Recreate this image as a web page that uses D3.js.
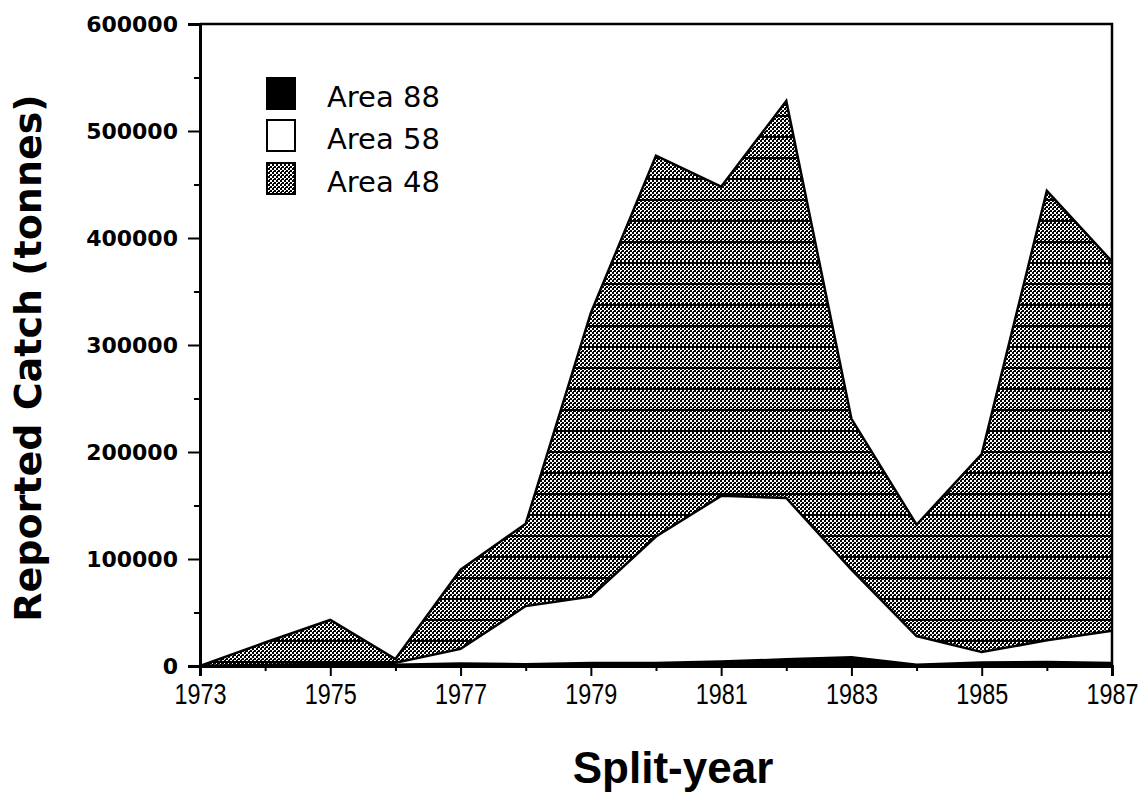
<!DOCTYPE html>
<html>
<head>
<meta charset="utf-8">
<script src="https://cdn.jsdelivr.net/npm/d3@7"></script>
<style>
  html, body { margin: 0; padding: 0; background: #fff; }
  svg { display: block; }
</style>
</head>
<body>
<svg id="chart" width="1147" height="794"></svg>
<script>
// ---- data ----
const years   = [1973, 1974, 1975, 1976, 1977, 1978, 1979, 1980, 1981, 1982, 1983, 1984, 1985, 1986, 1987];
const area88  = [0, 0, 500, 1000, 2000, 1500, 2500, 2500, 4000, 6000, 8000, 1000, 3000, 3500, 2500];
const area58  = [0, 1000, 1500, 2000, 14000, 54500, 62500, 118500, 155000, 151000, 82000, 27000, 10000, 20500, 30500];
const area48  = [0, 21000, 41000, 3500, 74000, 77000, 265000, 356000, 289000, 371000, 141000, 104000, 185000, 420000, 345000];
const seriesNames = ["Area 88", "Area 58", "Area 48"];
const yMajorTicks = [0, 100000, 200000, 300000, 400000, 500000, 600000];
const yMinorTicks = [50000, 150000, 250000, 350000, 450000, 550000];
const xLabelYears = [1973, 1975, 1977, 1979, 1981, 1983, 1985, 1987];
const xMinorYears = [1974, 1976, 1978, 1980, 1982, 1984, 1986];
const xTitle = "Split-year";
const yTitle = "Reported Catch (tonnes)";

(function () {
const rows = years.map((yr, i) => ({ year: yr, a88: area88[i], a58: area58[i], a48: area48[i] }));

// ---- layout ----
const mL = 200, mR = 1112, mT = 24, mB = 666;
const svg = d3.select("#chart");

const x = d3.scaleLinear().domain([1973, 1987]).range([mL, mR]);
const y = d3.scaleLinear().domain([0, 600000]).range([mB, mT]);

// patterns
const defs = svg.append("defs");
const dots = defs.append("pattern").attr("id", "dots")
  .attr("patternUnits", "userSpaceOnUse").attr("width", 4).attr("height", 4);
dots.append("rect").attr("width", 4).attr("height", 4).attr("fill", "#fff");
dots.append("rect").attr("x", 0).attr("y", 0).attr("width", 2).attr("height", 2).attr("fill", "#000");
dots.append("rect").attr("x", 2).attr("y", 2).attr("width", 2).attr("height", 2).attr("fill", "#000");
dots.append("rect").attr("x", 1).attr("y", 3).attr("width", 1).attr("height", 1).attr("fill", "#000");

const hlines = defs.append("pattern").attr("id", "hlines")
  .attr("patternUnits", "userSpaceOnUse").attr("width", 8).attr("height", 21).attr("y", 10);
hlines.append("rect").attr("x", 0).attr("y", 0).attr("width", 8).attr("height", 2).attr("fill", "#000");

// stack
const stack = d3.stack().keys(["a88", "a58", "a48"]);
const layers = stack(rows);

const area = d3.area()
  .x(d => x(d.data.year))
  .y0(d => y(d[0]))
  .y1(d => y(d[1]));
const lineTop = d3.line().x(d => x(d.data.year)).y(d => y(d[1]));

const fills = ["#000", "#fff", "url(#dots)"];
const g = svg.append("g");
layers.forEach((layer, i) => {
  g.append("path").datum(layer).attr("d", area).attr("fill", fills[i]).attr("stroke", "none");
  if (i === 2) {
    g.append("path").datum(layer).attr("d", area).attr("fill", "url(#hlines)");
  }
});
// outlines
layers.forEach((layer, i) => {
  g.append("path").datum(layer).attr("d", lineTop)
    .attr("fill", "none").attr("stroke", "#000")
    .attr("stroke-width", i === 0 ? 3 : 2.5).attr("stroke-linejoin", "miter");
});

// frame
svg.append("path")
  .attr("d", `M${mL},${mT}H${mR}V${mB}`)
  .attr("fill", "none").attr("stroke", "#000").attr("stroke-width", 2.5);

// axes
const yAxis = d3.axisLeft(y).tickValues(yMajorTicks).tickSize(12).tickPadding(10).tickFormat(d3.format("d"));
const yAxisMinor = d3.axisLeft(y).tickValues(yMinorTicks).tickSize(6).tickFormat("");
const xAxis = d3.axisBottom(x).tickValues(xLabelYears).tickSize(10).tickPadding(7).tickFormat(d3.format("d"));
const xAxisMinor = d3.axisBottom(x).tickValues(xMinorYears).tickSize(5).tickFormat("");

const gy = svg.append("g").attr("transform", `translate(${mL},0)`).call(yAxis);
svg.append("g").attr("transform", `translate(${mL},0)`).call(yAxisMinor);
const gx = svg.append("g").attr("transform", `translate(0,${mB})`).call(xAxis);
svg.append("g").attr("transform", `translate(0,${mB})`).call(xAxisMinor);

svg.selectAll(".domain").attr("stroke", "#000").attr("stroke-width", 3);
svg.selectAll(".tick line").attr("stroke", "#000").attr("stroke-width", 2);

gy.selectAll("text")
  .attr("font-family", "'DejaVu Sans', sans-serif")
  .attr("font-weight", "bold")
  .attr("font-size", 22)
  .attr("fill", "#000");

gx.selectAll("text")
  .attr("font-family", "'Liberation Sans', sans-serif")
  .attr("font-size", 30)
  .attr("fill", "#000")
  .attr("transform", "scale(0.78,1)");

// titles
svg.append("text")
  .attr("x", 673).attr("y", 783)
  .attr("text-anchor", "middle")
  .attr("font-family", "'Liberation Sans', sans-serif")
  .attr("font-weight", "bold")
  .attr("font-size", 44)
  .text(xTitle);

svg.append("text")
  .attr("transform", "translate(41,358) rotate(-90)")
  .attr("text-anchor", "middle")
  .attr("font-family", "'DejaVu Sans', sans-serif")
  .attr("font-weight", "bold")
  .attr("font-size", 38)
  .text(yTitle);

// legend
const legendFills = ["#000", "#fff", "url(#dots)"];
const legendY = [78, 120, 163];
const lg = svg.append("g");
seriesNames.forEach((name, i) => {
  lg.append("rect")
    .attr("x", 267).attr("y", legendY[i]).attr("width", 28).attr("height", 31)
    .attr("fill", legendFills[i]).attr("stroke", "#000").attr("stroke-width", 2);
  lg.append("text")
    .attr("x", 327).attr("y", legendY[i] + 29)
    .attr("font-family", "'DejaVu Sans', sans-serif")
    .attr("font-size", 29)
    .attr("fill", "#000")
    .text(name);
});
})();
</script>
</body>
</html>
